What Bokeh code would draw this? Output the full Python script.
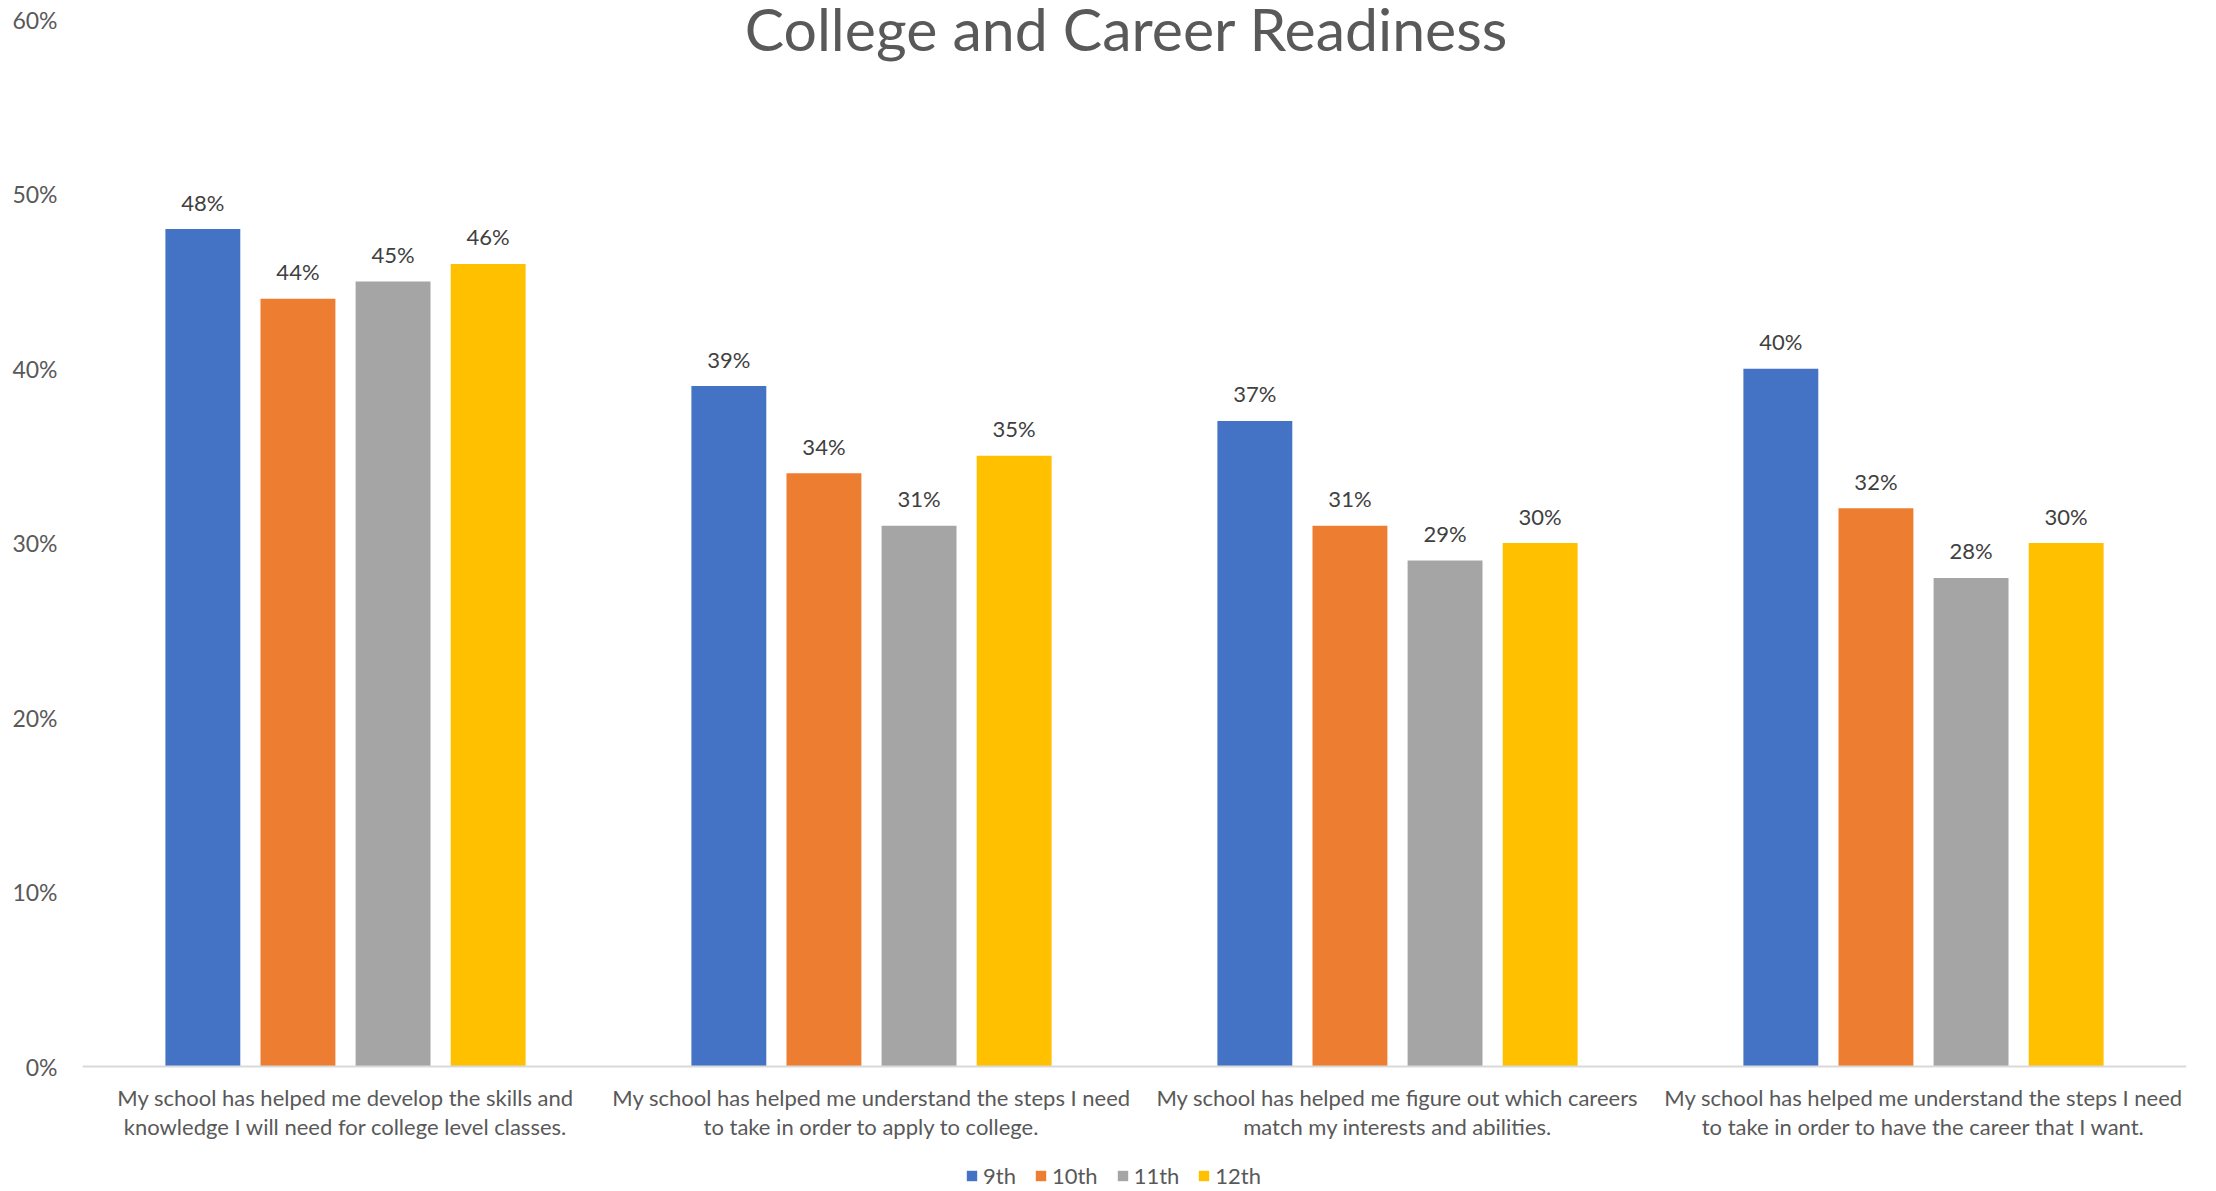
from bokeh.plotting import figure
from bokeh.models import (FactorRange, Range1d, Legend, LegendItem, Label, Span,
                          NumeralTickFormatter, FixedTicker, ColumnDataSource)
from bokeh.transform import dodge
from bokeh.core.properties import value
from bokeh.embed import file_html
from bokeh.resources import INLINE

categories = [
    "My school has helped me develop the skills and\nknowledge I will need for college level classes.",
    "My school has helped me understand the steps I need\nto take in order to apply to college.",
    "My school has helped me figure out which careers\nmatch my interests and abilities.",
    "My school has helped me understand the steps I need\nto take in order to have the career that I want.",
]
grades = ["9th", "10th", "11th", "12th"]
grade_9 = [0.48, 0.39, 0.37, 0.40]
grade_10 = [0.44, 0.34, 0.31, 0.32]
grade_11 = [0.45, 0.31, 0.29, 0.28]
grade_12 = [0.46, 0.35, 0.30, 0.30]
y_ticks = [0.0, 0.1, 0.2, 0.3, 0.4, 0.5, 0.6]
title_text = "College and Career Readiness"

series = [grade_9, grade_10, grade_11, grade_12]
colors = ["#4472C4", "#ED7D31", "#A5A5A5", "#FFC000"]
offsets = [-0.2712, -0.0904, 0.0904, 0.2712]
bar_width = 0.1424
FONT = "Lato"
TXT = "#595959"

# frame spans the whole figure height; y=0 sits where the category axis is
p = figure(x_range=FactorRange(factors=categories, range_padding=0),
           y_range=Range1d(-0.0705, 0.611), width=2214, height=1189,
           output_backend="svg", toolbar_location=None, title=None,
           min_border_left=82, min_border_right=28, min_border_top=0,
           min_border_bottom=0)
p.outline_line_color = None
p.xgrid.visible = False
p.ygrid.visible = False
p.xaxis.visible = False

data = {"cat": categories, "base": [0.0] * len(categories)}
for g, s in zip(grades, series):
    data[g] = s
    data[g + "_lbl"] = [f"{round(v * 100)}%" for v in s]
src = ColumnDataSource(data)

items = []
for g, c, off in zip(grades, colors, offsets):
    r = p.vbar(x=dodge("cat", off, range=p.x_range), top=g, bottom="base",
               width=bar_width, source=src, fill_color=c, line_color=None)
    p.text(x=dodge("cat", off, range=p.x_range), y=g, text=g + "_lbl", source=src,
           text_align="center", text_baseline="middle", y_offset=-27,
           text_font=value(FONT), text_font_size="22px", text_color="#404040")
    items.append(LegendItem(label=g, renderers=[r]))

# category axis line and labels
p.add_layout(Span(location=0, dimension="width", line_color="#D9D9D9", line_width=2))
p.text(x="cat", y="base", text="cat", source=src, text_align="center",
       text_baseline="top", y_offset=17, text_line_height=1.1,
       text_font=value(FONT), text_font_size="22px", text_color=TXT)

p.yaxis.ticker = FixedTicker(ticks=y_ticks)
p.yaxis.formatter = NumeralTickFormatter(format="0%")
p.yaxis.axis_line_color = None
p.yaxis.major_tick_line_color = None
p.yaxis.minor_tick_line_color = None
p.yaxis.major_label_standoff = 19
p.yaxis.major_label_text_font = FONT
p.yaxis.major_label_text_font_size = "23px"
p.yaxis.major_label_text_color = TXT

legend = Legend(items=items, orientation="horizontal", location=(883, 0),
                padding=0, margin=0, spacing=18, label_standoff=5,
                glyph_width=13, glyph_height=13,
                label_text_font=FONT, label_text_font_size="22px",
                label_text_color=TXT, border_line_color=None,
                background_fill_alpha=0)
p.add_layout(legend, "center")

p.add_layout(Label(x=1.985, y=0.6, y_offset=-9, text=title_text,
                   text_align="center", text_baseline="alphabetic",
                   text_font=FONT, text_font_size="59px", text_color=TXT))

open("out.html", "w").write(file_html(p, INLINE))
